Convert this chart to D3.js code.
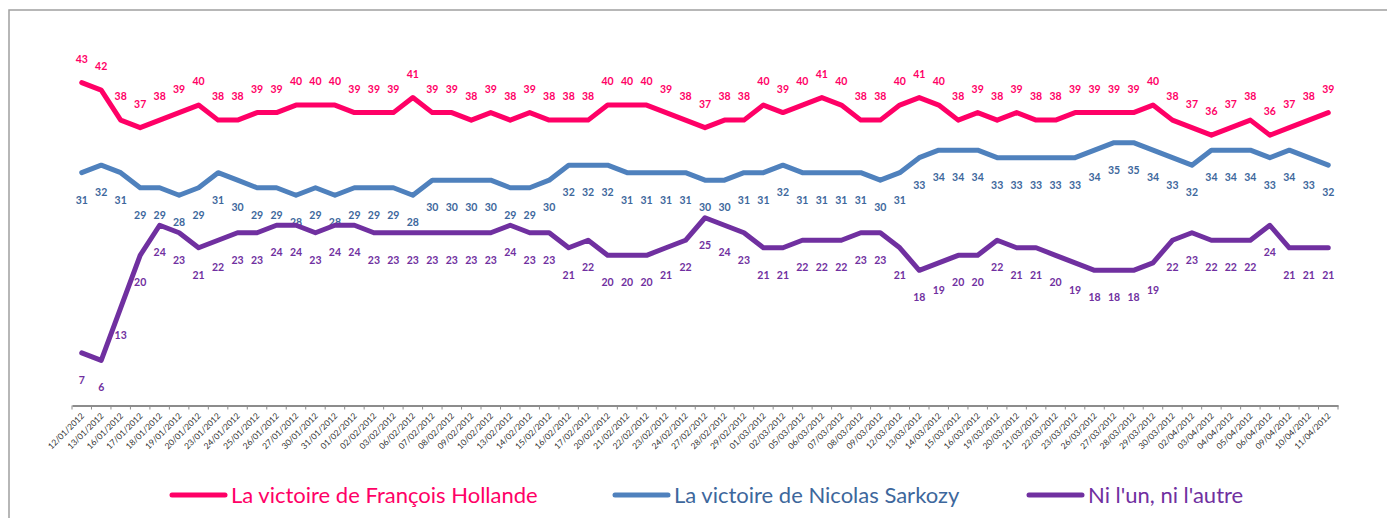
<!DOCTYPE html>
<head>
  <meta charset="utf-8">
  <title>Sondage quotidien - victoire souhaitée</title>
  <script src="https://d3js.org/d3.v7.min.js"></script>
  <style>
    body { margin: 0; background: #fff; }
    svg { display: block; }
    .tick-label { font-family: Lato, sans-serif; font-size: 8.5px; fill: #303030; }
    .val { font-family: Lato, sans-serif; font-size: 10.5px; font-weight: bold; text-anchor: middle; }
    .leg { font-family: Lato, sans-serif; font-size: 22px; }
  </style>
</head>
<body>
<svg width="1387" height="518"></svg>
<script>
const dates = [
  "12/01/2012","13/01/2012","16/01/2012","17/01/2012","18/01/2012","19/01/2012","20/01/2012",
  "23/01/2012","24/01/2012","25/01/2012","26/01/2012","27/01/2012","30/01/2012","31/01/2012",
  "01/02/2012","02/02/2012","03/02/2012","06/02/2012","07/02/2012","08/02/2012","09/02/2012",
  "10/02/2012","13/02/2012","14/02/2012","15/02/2012","16/02/2012","17/02/2012","20/02/2012",
  "21/02/2012","22/02/2012","23/02/2012","24/02/2012","27/02/2012","28/02/2012","29/02/2012",
  "01/03/2012","02/03/2012","05/03/2012","06/03/2012","07/03/2012","08/03/2012","09/03/2012",
  "12/03/2012","13/03/2012","14/03/2012","15/03/2012","16/03/2012","19/03/2012","20/03/2012",
  "21/03/2012","22/03/2012","23/03/2012","26/03/2012","27/03/2012","28/03/2012","29/03/2012",
  "30/03/2012","02/04/2012","03/04/2012","04/04/2012","05/04/2012","06/04/2012","09/04/2012",
  "10/04/2012","11/04/2012"
];

const hollande = [
  43,42,38,37,38,39,40,38,38,39,39,40,40,40,
  39,39,39,41,39,39,38,39,38,39,38,38,38,40,40,40,39,38,37,38,38,
  40,39,40,41,40,38,38,40,41,40,38,39,38,39,38,38,39,39,39,39,40,38,
  37,36,37,38,36,37,38,39
];

const sarkozy = [
  31,32,31,29,29,28,29,31,30,29,29,28,29,28,
  29,29,29,28,30,30,30,30,29,29,30,32,32,32,31,31,31,31,30,30,31,
  31,32,31,31,31,31,30,31,33,34,34,34,33,33,33,33,33,34,35,35,34,33,
  32,34,34,34,33,34,33,32
];

const niUnNiAutre = [
  7,6,13,20,24,23,21,22,23,23,24,24,23,24,
  24,23,23,23,23,23,23,23,24,23,23,21,22,20,20,20,21,22,25,24,23,
  21,21,22,22,22,23,23,21,18,19,20,20,22,21,21,20,19,18,18,18,19,22,
  23,22,22,22,24,21,21,21
];

const seriesNames = ["La victoire de François Hollande", "La victoire de Nicolas Sarkozy", "Ni l'un, ni l'autre"];
const colors = ["#ff0066", "#4f81bd", "#7030a0"];
const textColors = ["#ff0066", "#3d679c", "#7030a0"];

const series = [
  { name: seriesNames[0], values: hollande, color: colors[0], text: textColors[0], above: true },
  { name: seriesNames[1], values: sarkozy, color: colors[1], text: textColors[1], above: false },
  { name: seriesNames[2], values: niUnNiAutre, color: colors[2], text: textColors[2], above: false }
];

const svg = d3.select("svg");

// outer frame
svg.append("rect")
  .attr("x", 9).attr("y", 10)
  .attr("width", 1450).attr("height", 600)
  .attr("fill", "none")
  .attr("stroke", "#a0a0a0")
  .attr("stroke-width", 1.5);

const x = d3.scaleBand().domain(dates).range([72, 1338]).padding(0);
const y = d3.scaleLinear().domain([0, 50]).range([405.5, 30]);
const cx = d => x(d) + x.bandwidth() / 2;

// axis line + labels
const axis = svg.append("g")
  .attr("transform", "translate(0," + y(0) + ")")
  .call(d3.axisBottom(x).tickSize(0).tickSizeOuter(0).tickPadding(0));

axis.select(".domain").attr("stroke", "#8c8c8c").attr("stroke-width", 2);

axis.selectAll(".tick text")
  .attr("class", "tick-label")
  .attr("text-anchor", "end")
  .attr("dy", 0)
  .attr("transform", "translate(3,11) rotate(-45)");

// tick marks sit between categories
axis.selectAll(".sep")
  .data(dates.concat(["end"]))
  .enter()
  .append("line")
  .attr("class", "sep")
  .attr("x1", (d, i) => i < dates.length ? x(d) : x.range()[1])
  .attr("x2", (d, i) => i < dates.length ? x(d) : x.range()[1])
  .attr("y1", 0).attr("y2", 4)
  .attr("stroke", "#8c8c8c")
  .attr("stroke-width", 1);

const line = d3.line()
  .x((d, i) => cx(dates[i]))
  .y(d => y(d));

series.forEach(s => {
  svg.append("path")
    .datum(s.values)
    .attr("d", line)
    .attr("fill", "none")
    .attr("stroke", s.color)
    .attr("stroke-width", 5)
    .attr("stroke-linejoin", "round")
    .attr("stroke-linecap", "round");

  svg.append("g")
    .selectAll("text")
    .data(s.values)
    .enter()
    .append("text")
    .attr("class", "val")
    .attr("x", (d, i) => cx(dates[i]))
    .attr("y", d => s.above ? y(d) - 20 : y(d) + 31)
    .attr("fill", s.text)
    .text(d => d);
});

// legend
const legX = [172, 615, 1029];
const legend = svg.append("g");
series.forEach((s, i) => {
  const g = legend.append("g").attr("transform", "translate(" + legX[i] + ",495)");
  g.append("line")
    .attr("x1", 0).attr("x2", 53)
    .attr("stroke", s.color)
    .attr("stroke-width", 5)
    .attr("stroke-linecap", "round");
  g.append("text")
    .attr("class", "leg")
    .attr("x", 59).attr("y", 8)
    .attr("fill", s.text)
    .text(s.name);
});
</script>
</body>
